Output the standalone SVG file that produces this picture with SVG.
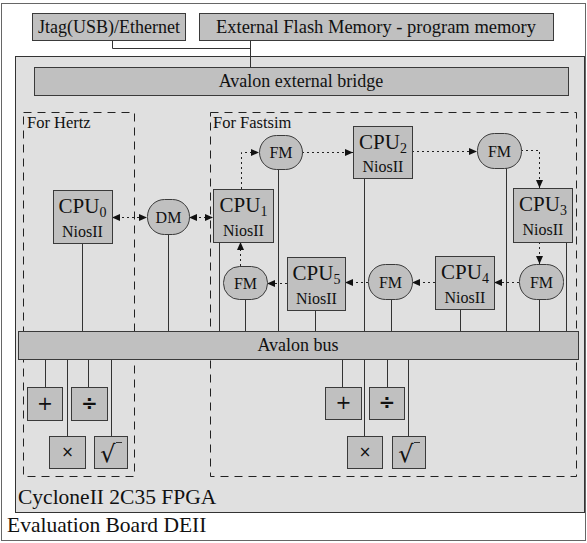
<svg xmlns="http://www.w3.org/2000/svg" width="587" height="543" viewBox="0 0 587 543">
<style>
.box{fill:#c0c0c0;stroke:#3a3a3a;stroke-width:1}
.t{font-family:"Liberation Serif","Times New Roman",serif;fill:#111}
.sym{font-family:"DejaVu Sans","Liberation Sans",sans-serif;fill:#111}
.ln{stroke:#333;stroke-width:1;fill:none}
.dot{stroke:#222;stroke-width:1;fill:none;stroke-dasharray:2,3}
.dash{stroke:#222;stroke-width:1;fill:none;stroke-dasharray:8,6}
</style>
<defs>
<marker id="ah" markerUnits="userSpaceOnUse" markerWidth="8" markerHeight="8" refX="8" refY="4" orient="auto-start-reverse">
<path d="M0,0.5 L8,4 L0,7.5 z" fill="#111"/>
</marker>
</defs>
<rect width="587" height="543" fill="#fff"/>
<g id="board">
<rect x="1.5" y="3.5" width="584" height="537" fill="#fff" stroke="#666"/>
<text class="t" x="7" y="532" font-size="21.5">Evaluation Board DEII</text>
</g>
<g id="jtag">
<rect class="box" x="32.5" y="13.5" width="153" height="27"/>
<text class="t" x="109" y="33" font-size="18" text-anchor="middle">Jtag(USB)/Ethernet</text>
</g>
<g id="flash">
<rect class="box" x="199.5" y="13.5" width="354" height="27"/>
<text class="t" x="376" y="33" font-size="18.5" text-anchor="middle">External Flash Memory - program memory</text>
</g>
<g id="fpga">
<rect x="15.5" y="56.5" width="569" height="456" fill="#e0e0e0" stroke="#333"/>
<text class="t" x="18" y="504" font-size="21.5">CycloneII 2C35 FPGA</text>
</g>
<g id="bridge">
<rect class="box" x="34.5" y="67.5" width="534" height="28"/>
<text class="t" x="301" y="87" font-size="18" text-anchor="middle">Avalon external bridge</text>
</g>
<g id="hertz">
<rect class="dash" x="23.5" y="112.5" width="111" height="364"/>
<text class="t" x="27" y="128" font-size="16.5">For Hertz</text>
</g>
<g id="fastsim">
<rect class="dash" x="210.5" y="112.5" width="366" height="364"/>
<text class="t" x="213" y="128" font-size="16.5">For Fastsim</text>
</g>
<g id="connectors">
<path class="ln" d="M112.5,40.5 V48.5 H250.5 M250.5,40.5 V67.5"/>
<path class="ln" d="M82.5,243 V331 M168.5,234 V331 M219.5,242 V331 M245.5,299 V331 M278.5,169 V331 M315.5,310 V331 M364.5,178 V331 M391.5,299 V331 M460.5,309 V331 M506.5,168 V331 M539.5,299 V331 M566.5,242 V331"/>
<path class="ln" d="M45.5,359 V387 M67.5,359 V436 M88.5,359 V387 M111.5,359 V436"/>
<path class="ln" d="M342.5,359 V387 M364.5,359 V436 M387.5,359 V387 M408.5,359 V436"/>
<path class="dot" d="M112,217.5 H147" marker-start="url(#ah)" marker-end="url(#ah)"/>
<path class="dot" d="M189,217.5 H213" marker-start="url(#ah)" marker-end="url(#ah)"/>
<path class="dot" d="M241.5,189 V152.5 H259" marker-end="url(#ah)"/>
<path class="dot" d="M302,152.5 H353" marker-end="url(#ah)"/>
<path class="dot" d="M412,151.5 H477" marker-end="url(#ah)"/>
<path class="dot" d="M521,150.5 H539.5 V188" marker-end="url(#ah)"/>
<path class="dot" d="M539.5,242 V264" marker-end="url(#ah)"/>
<path class="dot" d="M519,282.5 H494" marker-end="url(#ah)"/>
<path class="dot" d="M435,282.5 H412" marker-end="url(#ah)"/>
<path class="dot" d="M368,282.5 H345" marker-end="url(#ah)"/>
<path class="dot" d="M287,283.5 H267" marker-end="url(#ah)"/>
<path class="dot" d="M240.5,266 V242" marker-end="url(#ah)"/>
</g>
<g id="bus">
<rect class="box" x="18.5" y="331.5" width="560" height="28"/>
<text class="t" x="298" y="351" font-size="18" text-anchor="middle">Avalon bus</text>
</g>
<g id="cpu0">
<rect class="box" x="53.5" y="190.5" width="59" height="53"/>
<text class="t" x="82.5" y="213" font-size="21" text-anchor="middle">CPU<tspan font-size="14" dy="4">0</tspan></text>
<text class="t" x="82.5" y="237" font-size="16" text-anchor="middle">NiosII</text>
</g>
<g id="dm">
<rect class="box" x="147.5" y="199.5" width="42" height="35" rx="17" ry="17"/>
<text class="t" x="168.5" y="223" font-size="16" text-anchor="middle">DM</text>
</g>
<g id="cpu1">
<rect class="box" x="213.5" y="189.5" width="60" height="53"/>
<text class="t" x="243.5" y="212" font-size="21" text-anchor="middle">CPU<tspan font-size="14" dy="4">1</tspan></text>
<text class="t" x="243.5" y="236" font-size="16" text-anchor="middle">NiosII</text>
</g>
<g id="fm1">
<rect class="box" x="259.5" y="135.5" width="43" height="34" rx="17" ry="17"/>
<text class="t" x="281" y="158" font-size="16" text-anchor="middle">FM</text>
</g>
<g id="cpu2">
<rect class="box" x="353.5" y="126.5" width="59" height="52"/>
<text class="t" x="383" y="149" font-size="21" text-anchor="middle">CPU<tspan font-size="14" dy="4">2</tspan></text>
<text class="t" x="383" y="172" font-size="16" text-anchor="middle">NiosII</text>
</g>
<g id="fm2">
<rect class="box" x="477.5" y="133.5" width="44" height="35" rx="17" ry="17"/>
<text class="t" x="499.5" y="157" font-size="16" text-anchor="middle">FM</text>
</g>
<g id="cpu3">
<rect class="box" x="513.5" y="188.5" width="59" height="54"/>
<text class="t" x="543" y="211" font-size="21" text-anchor="middle">CPU<tspan font-size="14" dy="4">3</tspan></text>
<text class="t" x="543" y="235" font-size="16" text-anchor="middle">NiosII</text>
</g>
<g id="fm3">
<rect class="box" x="519.5" y="264.5" width="44" height="35" rx="17" ry="17"/>
<text class="t" x="541.5" y="288" font-size="16" text-anchor="middle">FM</text>
</g>
<g id="cpu4">
<rect class="box" x="435.5" y="256.5" width="59" height="53"/>
<text class="t" x="465" y="279" font-size="21" text-anchor="middle">CPU<tspan font-size="14" dy="4">4</tspan></text>
<text class="t" x="465" y="303" font-size="16" text-anchor="middle">NiosII</text>
</g>
<g id="fm4">
<rect class="box" x="368.5" y="264.5" width="44" height="35" rx="17" ry="17"/>
<text class="t" x="390.5" y="288" font-size="16" text-anchor="middle">FM</text>
</g>
<g id="cpu5">
<rect class="box" x="287.5" y="257.5" width="58" height="53"/>
<text class="t" x="316.5" y="280" font-size="21" text-anchor="middle">CPU<tspan font-size="14" dy="4">5</tspan></text>
<text class="t" x="316.5" y="304" font-size="16" text-anchor="middle">NiosII</text>
</g>
<g id="fm5">
<rect class="box" x="223.5" y="266.5" width="44" height="33" rx="16" ry="16"/>
<text class="t" x="245.5" y="289" font-size="16" text-anchor="middle">FM</text>
</g>
<g id="h-add">
<rect class="box" x="27.5" y="387.5" width="35" height="33"/>
<text class="sym" x="45" y="410" font-size="19" text-anchor="middle">+</text>
</g>
<g id="h-div">
<rect class="box" x="71.5" y="387.5" width="36" height="33"/>
<text class="sym" x="89.5" y="410" font-size="20" font-weight="bold" text-anchor="middle">÷</text>
</g>
<g id="h-mul">
<rect class="box" x="49.5" y="436.5" width="36" height="32"/>
<text class="sym" x="67.5" y="457" font-size="15" text-anchor="middle">×</text>
</g>
<g id="h-sqrt">
<rect class="box" x="94.5" y="436.5" width="33" height="32"/>
<text class="sym" x="108" y="462" font-size="24" text-anchor="middle">√</text>
<path class="ln" d="M116,442.5 H122"/>
</g>
<g id="f-add">
<rect class="box" x="325.5" y="387.5" width="36" height="32"/>
<text class="sym" x="343.5" y="409" font-size="19" text-anchor="middle">+</text>
</g>
<g id="f-div">
<rect class="box" x="369.5" y="387.5" width="35" height="32"/>
<text class="sym" x="387" y="409" font-size="20" font-weight="bold" text-anchor="middle">÷</text>
</g>
<g id="f-mul">
<rect class="box" x="347.5" y="436.5" width="35" height="32"/>
<text class="sym" x="365" y="457" font-size="15" text-anchor="middle">×</text>
</g>
<g id="f-sqrt">
<rect class="box" x="392.5" y="436.5" width="33" height="32"/>
<text class="sym" x="406" y="462" font-size="24" text-anchor="middle">√</text>
<path class="ln" d="M414,442.5 H420"/>
</g>
</svg>
